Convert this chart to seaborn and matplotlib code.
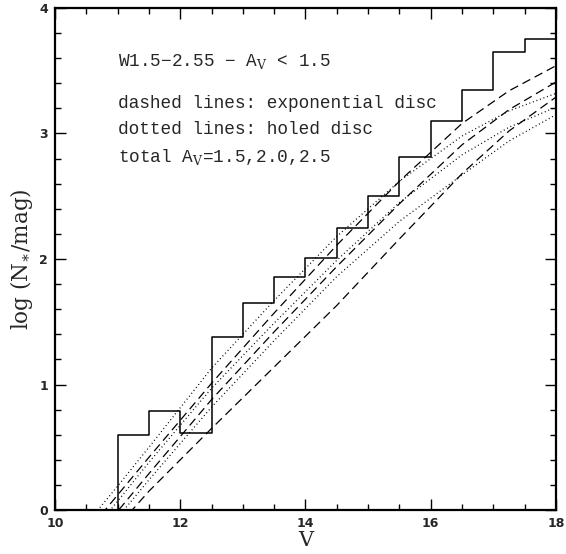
import numpy as np
import pandas as pd
import matplotlib
matplotlib.use("Agg")
import matplotlib.pyplot as plt
import seaborn as sns
from matplotlib.ticker import MultipleLocator

# ---- data ----
bin_left = [11.0, 11.5, 12.0, 12.5, 13.0, 13.5, 14.0, 14.5, 15.0, 15.5, 16.0, 16.5, 17.0, 17.5]
hist_vals = [0.60, 0.79, 0.61, 1.38, 1.65, 1.86, 2.01, 2.25, 2.50, 2.81, 3.10, 3.35, 3.65, 3.75]

v_model = [10.6, 11.0, 11.5, 12.5, 13.5, 14.5, 15.5, 16.5, 17.25, 18.0]
exp_av15 = [-0.12, 0.12, 0.42, 1.01, 1.57, 2.11, 2.62, 3.08, 3.34, 3.54]
exp_av20 = [-0.25, -0.01, 0.29, 0.88, 1.42, 1.94, 2.44, 2.91, 3.19, 3.41]
exp_av25 = [-0.35, -0.13, 0.15, 0.65, 1.14, 1.63, 2.16, 2.68, 3.02, 3.29]
hol_av15 = [-0.05, 0.19, 0.50, 1.13, 1.67, 2.18, 2.62, 2.98, 3.18, 3.32]
hol_av20 = [-0.17, 0.07, 0.38, 0.97, 1.49, 1.99, 2.45, 2.83, 3.05, 3.21]
hol_av25 = [-0.30, -0.06, 0.24, 0.82, 1.35, 1.86, 2.30, 2.67, 2.94, 3.15]

x_ticks = [10, 12, 14, 16, 18]
y_ticks = [0, 1, 2, 3, 4]

# ---- build tables ----
step_x = [bin_left[0]] + bin_left + [18.0]
step_y = [0.0] + hist_vals + [hist_vals[-1]]
hist_df = pd.DataFrame({"V": step_x, "logN": step_y})

rows = []
for name, vals, kind in [("exp1.5", exp_av15, "exp"), ("exp2.0", exp_av20, "exp"),
                         ("exp2.5", exp_av25, "exp"), ("hol1.5", hol_av15, "hol"),
                         ("hol2.0", hol_av20, "hol"), ("hol2.5", hol_av25, "hol")]:
    for v, y in zip(v_model, vals):
        rows.append({"V": v, "logN": y, "model": name, "kind": kind})
model_df = pd.DataFrame(rows)

sns.set_theme(style="white")
plt.rcParams["font.family"] = ["DejaVu Serif"]
plt.rcParams["mathtext.fontset"] = "dejavuserif"

fig = plt.figure(figsize=(5.66, 5.54), dpi=100)
ax = fig.add_axes([0.0972, 0.0794, 0.8851, 0.9062])

for name in ["exp1.5", "exp2.0", "exp2.5"]:
    sns.lineplot(data=model_df[model_df.model == name], x="V", y="logN", ax=ax,
                 color="black", lw=0.9, estimator=None, sort=False, legend=False)
    ax.lines[-1].set_dashes([7, 4])
for name in ["hol1.5", "hol2.0", "hol2.5"]:
    sns.lineplot(data=model_df[model_df.model == name], x="V", y="logN", ax=ax,
                 color="black", lw=0.9, estimator=None, sort=False, legend=False)
    ax.lines[-1].set_dashes([0.8, 2.2])

sns.lineplot(data=hist_df, x="V", y="logN", ax=ax, color="black", lw=1.1,
             estimator=None, sort=False, drawstyle="steps-post", legend=False)

ax.set_xlim(10, 18)
ax.set_ylim(0, 4)
ax.set_xticks(x_ticks)
ax.set_yticks(y_ticks)
ax.xaxis.set_minor_locator(MultipleLocator(0.5))
ax.yaxis.set_minor_locator(MultipleLocator(0.2))
ax.tick_params(which="both", direction="in", top=True, right=True, bottom=True, left=True,
               color="black", width=1.0)
ax.tick_params(which="major", length=8, labelsize=9, pad=5)
ax.tick_params(which="minor", length=4)
for lab in ax.get_xticklabels() + ax.get_yticklabels():
    lab.set_family("DejaVu Sans")
    lab.set_fontweight("bold")
for sp in ax.spines.values():
    sp.set_color("black")
    sp.set_linewidth(1.6)

ax.set_xlabel("V", fontsize=15, labelpad=1)
ax.set_ylabel("log (N$_{\\ast}$/mag)", fontsize=15.5, labelpad=3)

mono = "Liberation Mono"
fs = 12.8
ax.text(11.0, 3.57, "W1.5\u22122.55 \u2212 A$_\\mathrm{V}$ < 1.5", fontsize=fs,
        family=mono, va="center", ha="left")
ax.text(11.0, 3.24, "dashed lines: exponential disc", fontsize=fs, family=mono,
        va="center", ha="left")
ax.text(11.0, 3.03, "dotted lines: holed disc", fontsize=fs, family=mono,
        va="center", ha="left")
ax.text(11.0, 2.81, "total A$_\\mathrm{V}$=1.5,2.0,2.5", fontsize=fs, family=mono,
        va="center", ha="left")

fig.savefig("out.png", dpi=100, facecolor="white")
